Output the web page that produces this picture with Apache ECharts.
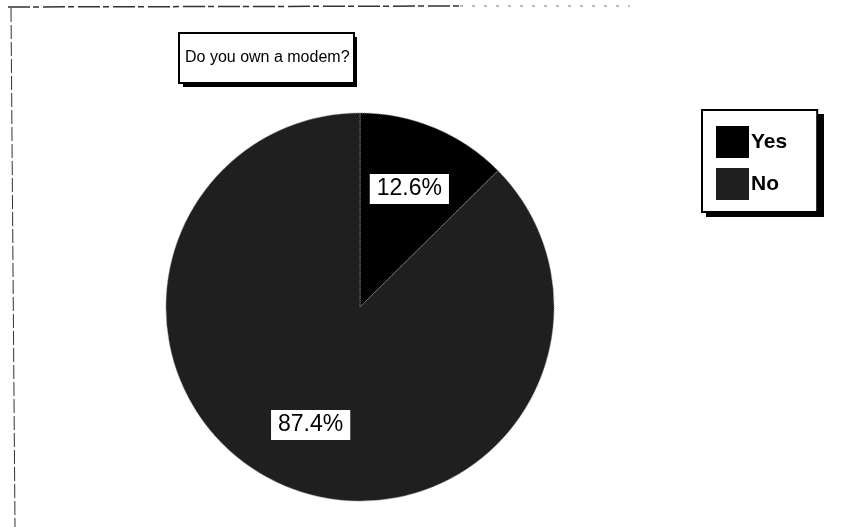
<!DOCTYPE html>
<html>
<head>
<meta charset="utf-8">
<script src="https://cdn.jsdelivr.net/npm/echarts@6/dist/echarts.min.js"></script>
<style>html,body{margin:0;padding:0;background:#fff}#c{width:845px;height:527px}</style>
</head>
<body>
<div id="c"></div>
<script>
var titleText = "Do you own a modem?";
var categories = ["Yes", "No"];
var values = [12.6, 87.4];
var sliceColors = ["#000000", "#1f1f1f"];

var chart = echarts.init(document.getElementById('c'), null, {renderer: 'canvas'});
var pieData = categories.map(function (c, i) {
  return {name: c, value: values[i], itemStyle: {color: sliceColors[i]}};
});
var labelData = categories.map(function (c, i) {
  return {name: c, value: values[i]};
});
chart.setOption({
  animation: false,
  backgroundColor: '#ffffff',
  title: {
    text: titleText,
    left: 179, top: 33,
    padding: [16, 5, 16, 6],
    backgroundColor: '#ffffff',
    borderColor: '#000', borderWidth: 2,
    textStyle: {fontFamily: 'Liberation Sans, Arial, sans-serif', fontSize: 16, fontWeight: 'normal', color: '#000', lineHeight: 18}
  },
  legend: {
    orient: 'vertical',
    left: 702, top: 110,
    padding: [16, 30, 12, 14],
    itemWidth: 33, itemHeight: 32, itemGap: 10,
    icon: 'rect',
    backgroundColor: '#ffffff',
    borderColor: '#000', borderWidth: 2,
    data: categories,
    textStyle: {fontFamily: 'Liberation Sans, Arial, sans-serif', fontSize: 21, fontWeight: 'bold', color: '#000', padding: [0, 0, 0, -3]},
    itemStyle: {borderWidth: 0}
  },
  graphic: [
    {type: 'rect', z: 0, shape: {x: 183, y: 37, width: 174, height: 50}, style: {fill: '#000'}, silent: true},
    {type: 'rect', z: 0, shape: {x: 706, y: 114, width: 118, height: 103}, style: {fill: '#000'}, silent: true},
    {type: 'line', shape: {x1: 11, y1: 8, x2: 15, y2: 527}, style: {stroke: '#333', lineWidth: 1, lineDash: [14, 3]}, silent: true},
    {type: 'line', shape: {x1: 8, y1: 7, x2: 460, y2: 6}, style: {stroke: '#333', lineWidth: 1.5, lineDash: [22, 3, 6, 4]}, silent: true},
    {type: 'line', shape: {x1: 460, y1: 6, x2: 630, y2: 6}, style: {stroke: '#777', lineWidth: 1, lineDash: [3, 9]}, silent: true}
  ],
  series: [
    {
      type: 'pie',
      center: [360, 307],
      radius: [0, 194],
      startAngle: 90,
      clockwise: true,
      silent: true,
      label: {show: false},
      labelLine: {show: false},
      itemStyle: {borderColor: '#8a8a8a', borderWidth: 1, borderType: 'dotted'},
      data: pieData
    },
    {
      type: 'pie',
      center: [360, 307],
      radius: [0, 250],
      startAngle: 90,
      clockwise: true,
      silent: true,
      legendHoverLink: false,
      itemStyle: {color: 'rgba(0,0,0,0)', borderWidth: 0},
      label: {
        show: true,
        position: 'inside',
        formatter: function (p) { return p.value.toFixed(1) + '%'; },
        backgroundColor: '#ffffff',
        padding: [5, 7, 1, 7],
        color: '#000',
        fontFamily: 'Liberation Sans, Arial, sans-serif',
        fontSize: 23,
        lineHeight: 24
      },
      labelLine: {show: false},
      data: labelData
    }
  ]
});
</script>
</body>
</html>
